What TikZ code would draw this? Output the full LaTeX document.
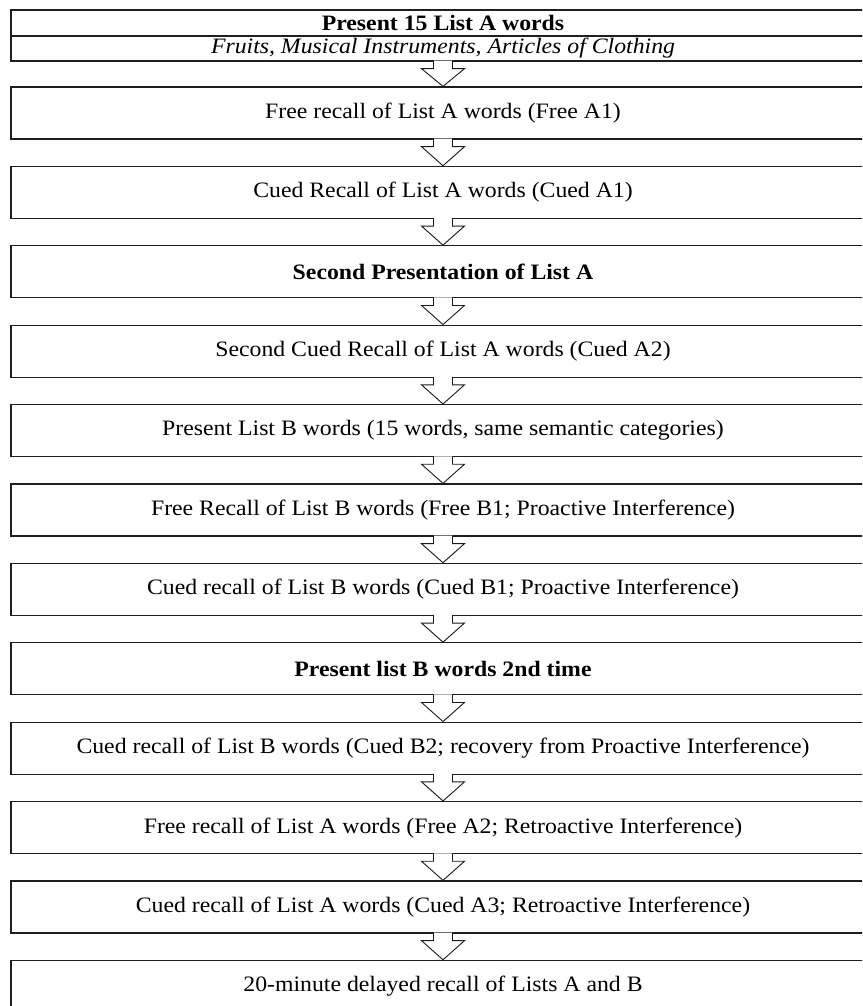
\documentclass[tikz,border=0pt]{standalone}
\usepackage{fontspec}
\setmainfont{Liberation Serif}
\usetikzlibrary{calc}
\newcommand{\wide}[1]{\scalebox{1.08}[1]{#1}}
\tikzset{
  stepbox/.style={draw=black!88, line width=1.3pt, rectangle, minimum width=864pt, minimum height=52pt, inner sep=0pt, font=\fontsize{22}{26}\selectfont},
  headbox/.style={draw=black!88, line width=1.3pt, rectangle, minimum width=864pt, inner sep=0pt, font=\fontsize{22}{26}\selectfont},
  blockarrow/.style={draw=black!90, line width=0.9pt, fill=white, line join=miter}
}
\newcommand{\flowarrow}[2]{%
  \filldraw[blockarrow] ($(#1.south)+(-9.5,-1)$) -- ($(#1.south)+(-9.5,7)$) -- ($(#1.south)+(-21.5,7)$) -- (#2.north) -- ($(#1.south)+(21.5,7)$) -- ($(#1.south)+(9.5,7)$) -- ($(#1.south)+(9.5,-1)$);
}
\begin{document}
\begin{tikzpicture}[x=1pt,y=-1pt]
\useasboundingbox (0,0) rectangle (862,1006);
\clip (0,0) rectangle (862,1006);
\fill[white] (0,0) rectangle (862,1006);
\node[headbox, minimum height=26pt] (h1) at (443,23) {\wide{\textbf{Present 15 List A words}}};
\node[headbox, minimum height=25pt] (h2) at (443,48.5) {\wide{\textit{Fruits, Musical Instruments, Articles of Clothing}}};
\node[stepbox] (b1) at (443,113) {\wide{Free recall of List A words (Free A1)}};
\node[stepbox] (b2) at (443,192.4) {\wide{Cued Recall of List A words (Cued A1)}};
\node[stepbox] (b3) at (443,271.8) {\wide{\textbf{Second Presentation of List A}}};
\node[stepbox] (b4) at (443,351.2) {\wide{Second Cued Recall of List A words (Cued A2)}};
\node[stepbox] (b5) at (443,430.6) {\wide{Present List B words (15 words, same semantic categories)}};
\node[stepbox] (b6) at (443,510) {\wide{Free Recall of List B words (Free B1; Proactive Interference)}};
\node[stepbox] (b7) at (443,589.4) {\wide{Cued recall of List B words (Cued B1; Proactive Interference)}};
\node[stepbox] (b8) at (443,668.8) {\wide{\textbf{Present list B words 2nd time}}};
\node[stepbox] (b9) at (443,748.2) {\wide{Cued recall of List B words (Cued B2; recovery from Proactive Interference)}};
\node[stepbox] (b10) at (443,827.6) {\wide{Free recall of List A words (Free A2; Retroactive Interference)}};
\node[stepbox] (b11) at (443,907) {\wide{Cued recall of List A words (Cued A3; Retroactive Interference)}};
\node[stepbox] (b12) at (443,986.4) {\wide{20-minute delayed recall of Lists A and B}};
\flowarrow{h2}{b1}
\flowarrow{b1}{b2}
\flowarrow{b2}{b3}
\flowarrow{b3}{b4}
\flowarrow{b4}{b5}
\flowarrow{b5}{b6}
\flowarrow{b6}{b7}
\flowarrow{b7}{b8}
\flowarrow{b8}{b9}
\flowarrow{b9}{b10}
\flowarrow{b10}{b11}
\flowarrow{b11}{b12}
\end{tikzpicture}
\end{document}
